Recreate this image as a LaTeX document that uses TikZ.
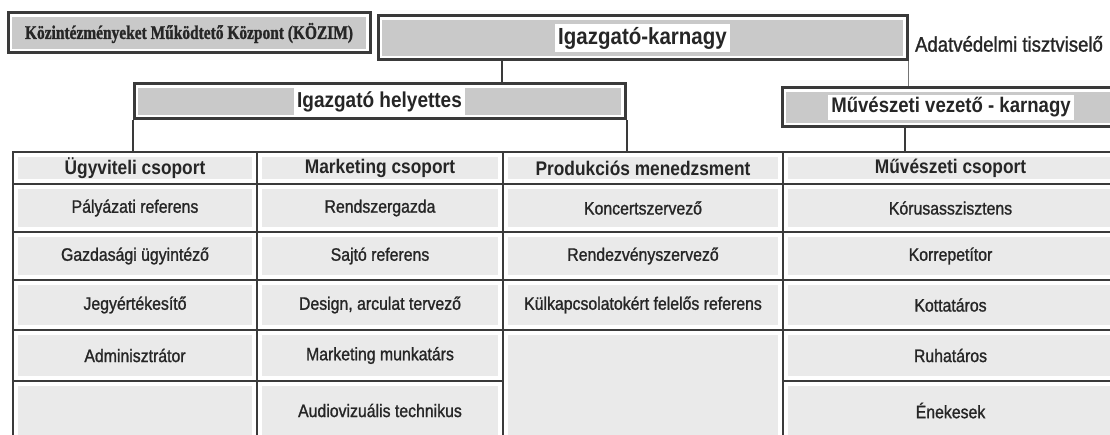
\documentclass[tikz,border=0pt]{standalone}
\usepackage{fontspec}
\setmainfont{Liberation Sans}[FakeStretch=0.88]
\newfontfamily\itemfont{Liberation Sans}[FakeStretch=0.88, FakeBold=1.2]
\newfontfamily\serifb{Liberation Serif}[FakeBold=1.5]
\usetikzlibrary{calc}
\definecolor{ln}{HTML}{3A3A3A}
\definecolor{boxg}{HTML}{C9C9C9}
\definecolor{cellg}{HTML}{EAEAEA}
\definecolor{txt}{HTML}{262626}
\newcommand{\wbg}[1]{{\setlength{\fboxsep}{3pt}\colorbox{white}{#1}}}
\begin{document}
\begin{tikzpicture}[x=1pt,y=-1pt,
  topbox/.style={draw=ln, line width=3pt, fill=white, inner sep=0pt, text=txt,
    path picture={\fill[boxg] ([shift={(4pt,-4pt)}]path picture bounding box.north west) rectangle ([shift={(-4pt,4pt)}]path picture bounding box.south east);}},
  cell/.style={draw=ln, line width=2.5pt, fill=white, inner sep=0pt, text=txt,
    font=\itemfont\fontsize{18}{20}\selectfont,
    path picture={\fill[cellg] ([shift={(5pt,-5pt)}]path picture bounding box.north west) rectangle ([shift={(-5pt,5pt)}]path picture bounding box.south east);}},
  head/.style={cell, font=\rmfamily\fontsize{19.7}{22}\selectfont\bfseries},
  conn/.style={draw=ln, line width=2.5pt},
  connthin/.style={draw=ln!70, line width=1.3pt}
]
\useasboundingbox (0,0) rectangle (1110,435);

% top level
\node[topbox, minimum width=362pt, minimum height=40pt] (kozim) at (189,33)
  {\resizebox{328pt}{16pt}{\serifb\bfseries Közintézményeket Működtető Központ (KÖZIM)}};
\node[topbox, minimum width=529pt, minimum height=44pt] (karnagy) at (642.5,38)
  {\wbg{\fontsize{23.3}{26}\selectfont\bfseries Igazgató-karnagy}};
\node[text=txt, inner sep=0pt, font=\itemfont\fontsize{21.1}{24}\selectfont] (adat) at (1009,44) {Adatvédelmi tisztviselő};

\node[topbox, minimum width=491pt, minimum height=35pt] (helyettes) at (379.5,101.5)
  {\wbg{\fontsize{21.6}{24}\selectfont\bfseries Igazgató helyettes}};
\node[topbox, minimum width=338pt, minimum height=39pt] (muv) at (951,107.5)
  {\wbg{\fontsize{21.1}{24}\selectfont\bfseries Művészeti vezető - karnagy}};

% table: headers
\node[head, minimum width=244pt, minimum height=32pt] (h1) at (135,168) {Ügyviteli csoport};
\node[head, minimum width=246pt, minimum height=32pt] (h2) at (380,168) {Marketing csoport};
\node[head, minimum width=280pt, minimum height=32pt] (h3) at (643,168) {Produkciós menedzsment};
\node[head, minimum width=335pt, minimum height=32pt] (h4) at (950.5,168) {Művészeti csoport};

% column 1
\node[cell, minimum width=244pt, minimum height=48pt] (a1) at (135,208) {Pályázati referens};
\node[cell, minimum width=244pt, minimum height=48pt] (a2) at (135,256) {Gazdasági ügyintéző};
\node[cell, minimum width=244pt, minimum height=50pt] (a3) at (135,305) {Jegyértékesítő};
\node[cell, minimum width=244pt, minimum height=51pt] (a4) at (135,355.5) {Adminisztrátor};
\node[cell, minimum width=244pt, minimum height=59pt] (a5) at (135,410.5) {};

% column 2
\node[cell, minimum width=246pt, minimum height=48pt] (b1) at (380,208) {Rendszergazda};
\node[cell, minimum width=246pt, minimum height=48pt] (b2) at (380,256) {Sajtó referens};
\node[cell, minimum width=246pt, minimum height=50pt] (b3) at (380,305) {Design, arculat tervező};
\node[cell, minimum width=246pt, minimum height=51pt] (b4) at (380,355.5) {Marketing munkatárs};
\node[cell, minimum width=246pt, minimum height=59pt] (b5) at (380,410.5) {Audiovizuális technikus};

% column 3
\node[cell, minimum width=280pt, minimum height=48pt] (c1) at (643,208) {Koncertszervező};
\node[cell, minimum width=280pt, minimum height=48pt] (c2) at (643,256) {Rendezvényszervező};
\node[cell, minimum width=280pt, minimum height=50pt] (c3) at (643,305) {Külkapcsolatokért felelős referens};
\node[cell, minimum width=280pt, minimum height=110pt] (c4) at (643,385) {};

% column 4
\node[cell, minimum width=335pt, minimum height=48pt] (d1) at (950.5,208) {Kórusasszisztens};
\node[cell, minimum width=335pt, minimum height=48pt] (d2) at (950.5,256) {Korrepetítor};
\node[cell, minimum width=335pt, minimum height=50pt] (d3) at (950.5,305) {Kottatáros};
\node[cell, minimum width=335pt, minimum height=51pt] (d4) at (950.5,355.5) {Ruhatáros};
\node[cell, minimum width=335pt, minimum height=59pt] (d5) at (950.5,410.5) {Énekesek};

% connectors
\coordinate (j1) at (502,0);
\coordinate (j2) at (905,0);
\draw[conn] (karnagy.south -| j1) -- (helyettes.north -| j1);
\draw[connthin] (karnagy.south east) -- (karnagy.south east |- muv.north);
\draw[conn] (muv.south -| j2) -- (h4.north -| j2);
\draw[conn, line width=2pt] (helyettes.south west) -- (helyettes.south west |- h1.north);
\draw[conn, line width=2pt] (helyettes.south east) -- (helyettes.south east |- h3.north);
\end{tikzpicture}
\end{document}
